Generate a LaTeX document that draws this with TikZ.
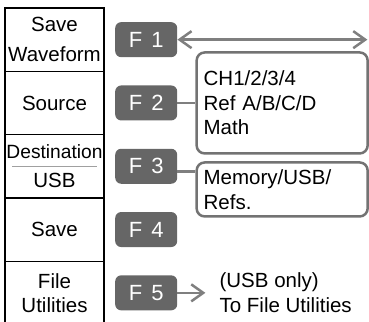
\documentclass[tikz,border=0pt]{standalone}
\usepackage{fontspec}
\setmainfont{Liberation Sans}
\usetikzlibrary{arrows.meta, positioning}
\definecolor{KeyGray}{HTML}{666666}
\definecolor{FrameGray}{HTML}{737373}
\definecolor{LinkGray}{HTML}{7F7F7F}
\definecolor{RuleGray}{HTML}{A0A0A0}
\newcommand{\menufont}{\fontsize{20.5}{24}\selectfont}
\newcommand{\keyfont}{\fontsize{22}{24}\selectfont}
\newcommand{\optfont}{\fontsize{20.5}{24.5}\selectfont}
\tikzset{
  menucell/.style={draw=black, line width=1.3pt, outer sep=0pt, minimum width=99pt,
                   minimum height=63.3pt, inner sep=0pt, align=center, font=\menufont},
  fkey/.style={fill=KeyGray, rounded corners=6pt, minimum width=62pt, minimum height=35pt,
               inner sep=0pt, text=white, font=\keyfont},
  optbox/.style={draw=FrameGray, line width=2.5pt, rounded corners=8pt, text width=157pt,
                 inner xsep=7pt, align=left, font=\optfont},
  notetext/.style={inner sep=2pt, align=left, font=\optfont},
  linkline/.style={draw=LinkGray, line width=2.5pt},
  linkarrow/.style={linkline, -{Straight Barb[length=12pt, width=17pt]}},
  linkboth/.style={linkline, {Straight Barb[length=12pt, width=17pt]}-{Straight Barb[length=12pt, width=17pt]}}
}
\begin{document}
\begin{tikzpicture}[x=1pt, y=-1pt]
  \clip (0,0) rectangle (369,321);

  % soft menu column
  \node[menucell] (savewave) at (54.5,39.65) {Save\\[6pt]Waveform};
  \node[menucell, below=0pt of savewave] (source) {Source};
  \node[menucell, below=0pt of source]   (dest)   {\fontsize{19.2}{24}\selectfont Destination\\[5pt]USB};
  \node[menucell, below=0pt of dest]     (save)   {Save};
  \node[menucell, below=0pt of save]     (fileut) {File\\[0pt]Utilities};
  \draw[RuleGray, line width=1pt] ([xshift=7pt]dest.west) -- ([xshift=-7pt]dest.east);

  % function keys
  \node[fkey, right=11pt of savewave] (f1) {F\hspace{9pt}1};
  \node[fkey, right=11pt of source]   (f2) {F\hspace{9pt}2};
  \node[fkey, right=11pt of dest]     (f3) {F\hspace{9pt}3};
  \node[fkey, right=11pt of save]     (f4) {F\hspace{9pt}4};
  \node[fkey, right=11pt of fileut]   (f5) {F\hspace{9pt}5};

  % option lists
  \node[optbox, minimum height=101pt, right=18pt of f2] (chlist)  {CH1/2/3/4\\Ref A/B/C/D\\Math};
  \node[optbox, minimum height=54pt, below=6.5pt of chlist] (memlist) {Memory/USB/\\Refs.};
  \node[notetext, right=40pt of f5] (usbnote) {(USB only)\\To File Utilities};
  \coordinate[right=190pt of f1.east] (f1far);

  \draw[linkboth] (f1) -- (f1far);
  \draw[linkline] (f2) -- (chlist);
  \draw[linkline] ([yshift=-5pt]f3.east) -- ([yshift=-5pt]f3.east -| memlist.west);
  \draw[linkarrow, shorten >=12pt] (f5) -- (usbnote);
\end{tikzpicture}
\end{document}
